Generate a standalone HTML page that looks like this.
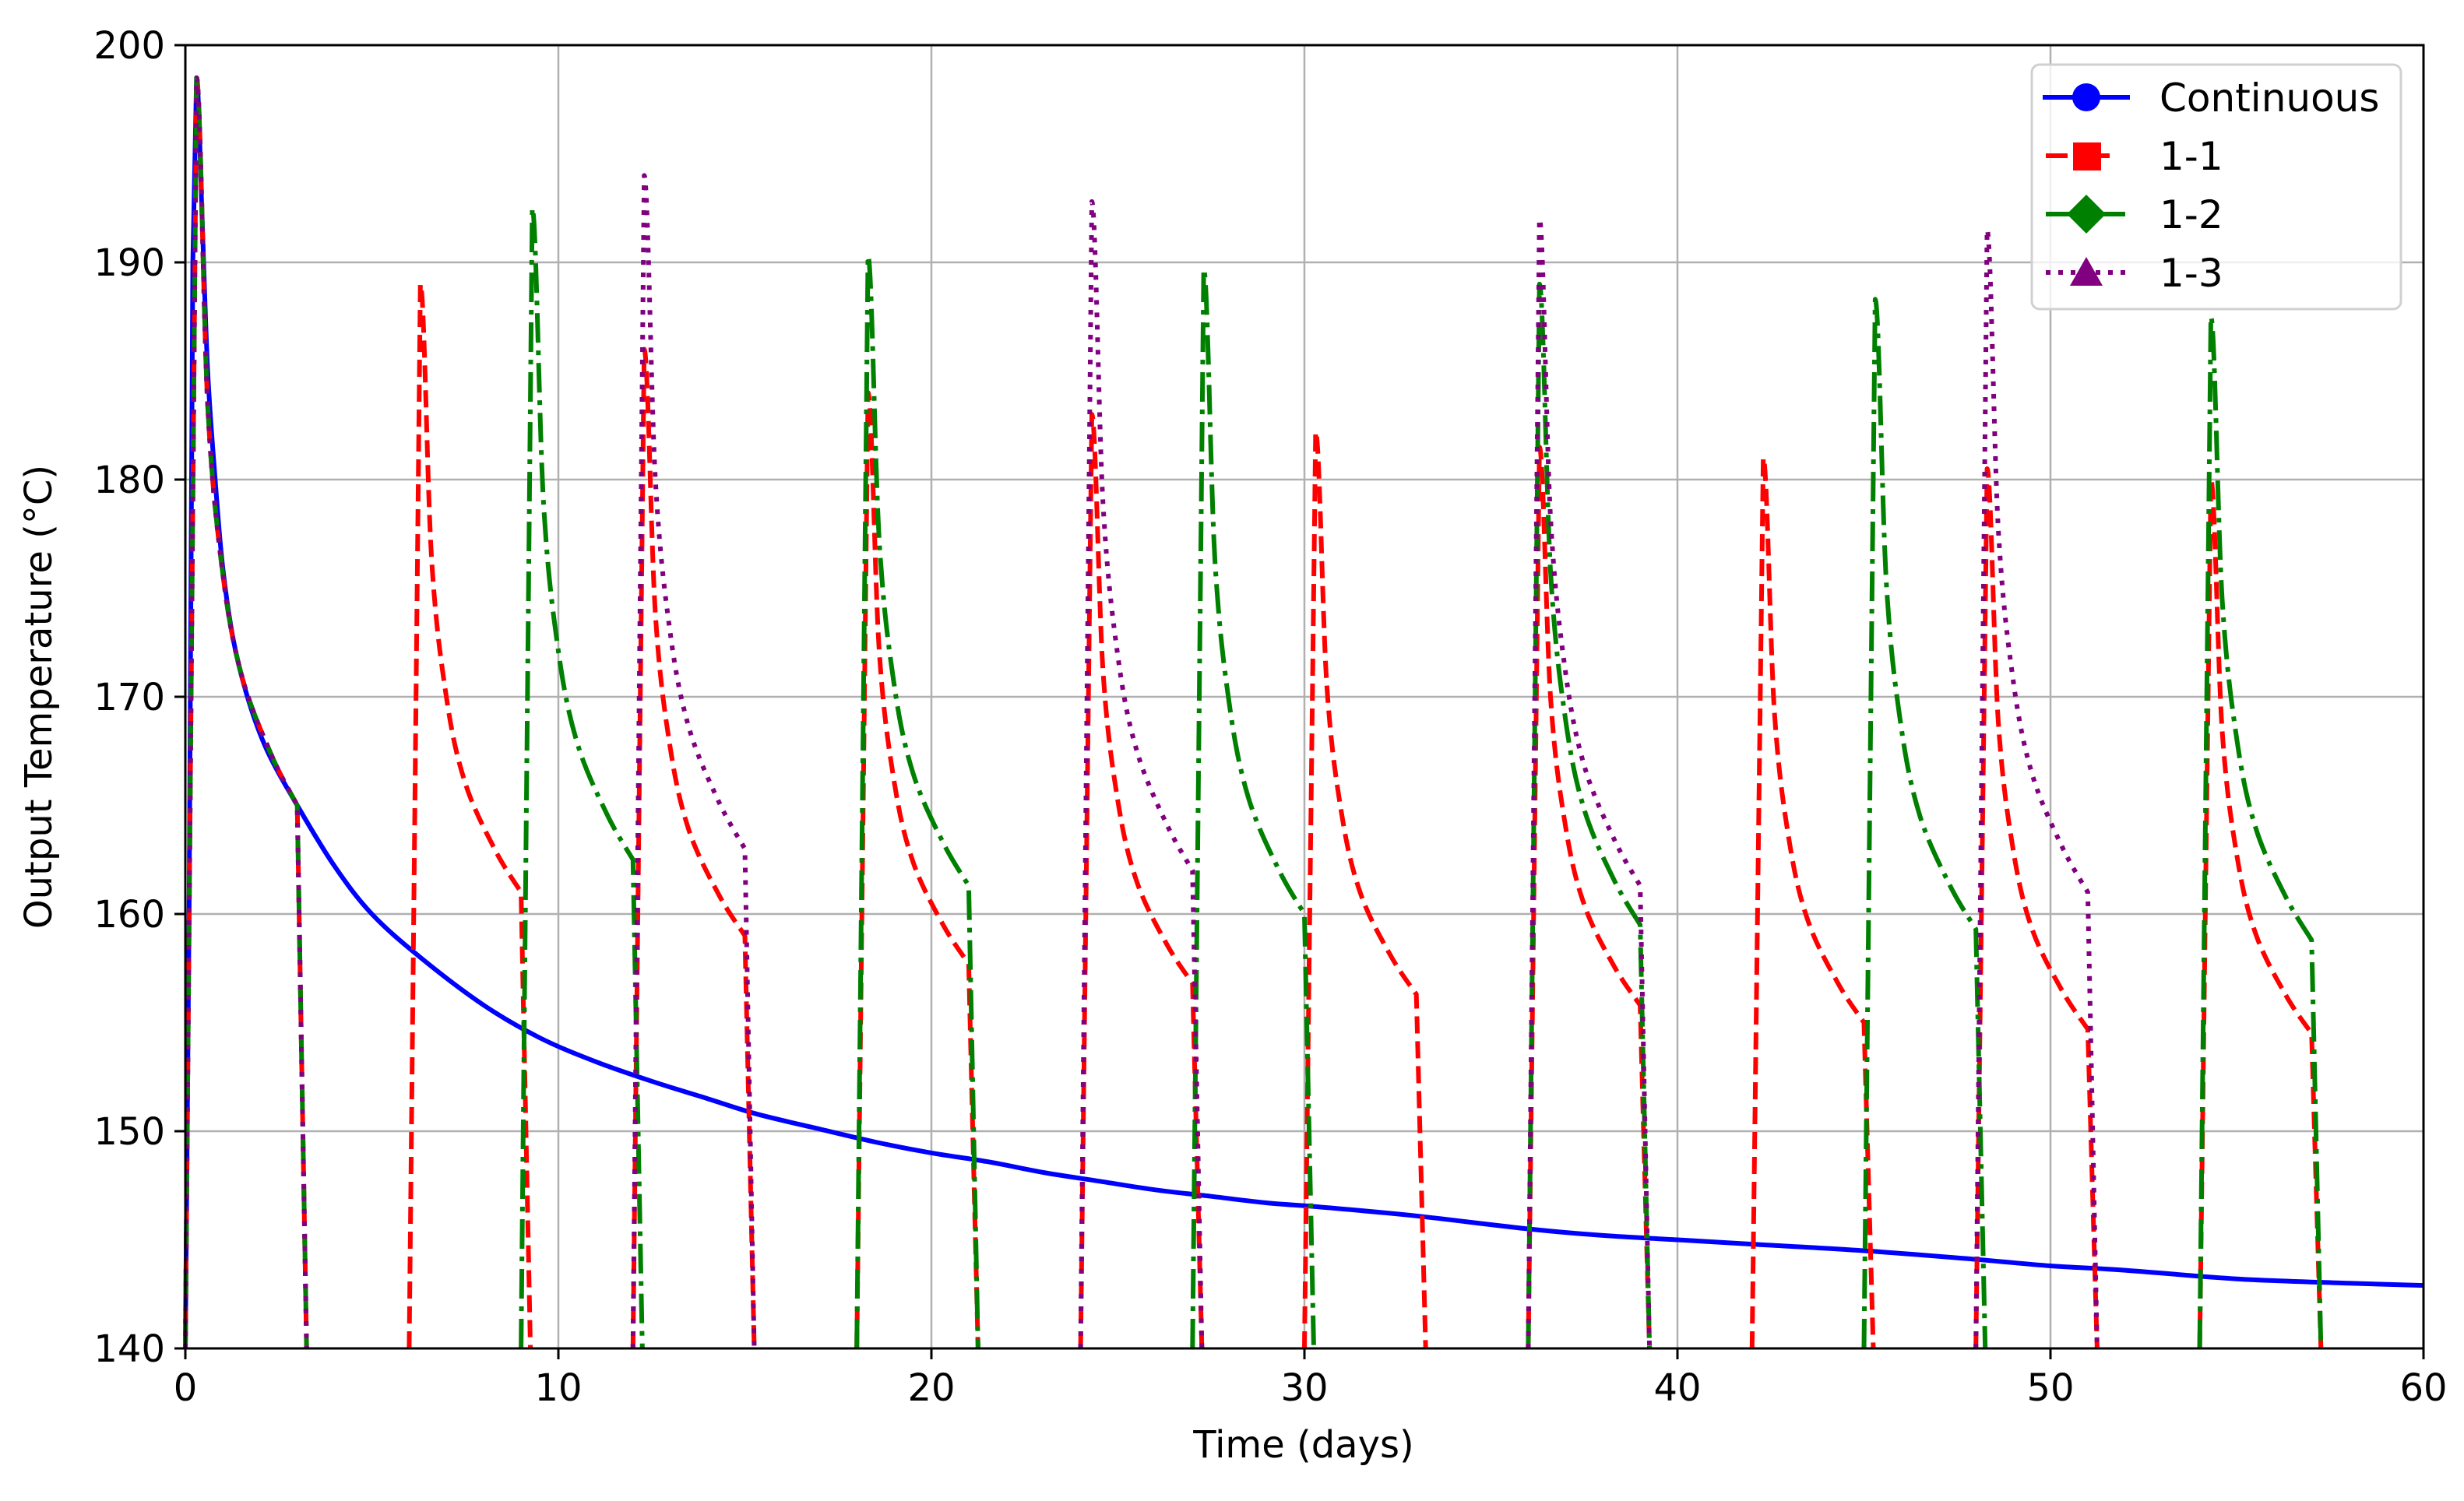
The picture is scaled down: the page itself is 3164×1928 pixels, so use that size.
<!DOCTYPE html>
<html><head><meta charset="utf-8"><style>
html,body{margin:0;padding:0;background:#fff;}
svg{display:block;font-family:"DejaVu Sans","Liberation Sans",sans-serif;}
</style></head><body>
<svg id="chart" width="3164" height="1928" viewBox="0 0 3164 1928">
<g id="grid"></g>
<g id="series"></g>
<g id="axes"></g>
<text x="1674" y="1872" font-size="48" text-anchor="middle">Time (days)</text>
<text transform="translate(66,895) rotate(-90)" font-size="48" text-anchor="middle">Output Temperature (°C)</text>
<g id="legend">
<rect x="2609" y="83" width="474" height="314" rx="10" fill="#fff" fill-opacity="0.8" stroke="#d0d0d0" stroke-width="3"/>
<g>
<line x1="2623" y1="125" x2="2735" y2="125" stroke="#0000ff" stroke-width="6"/>
<circle cx="2679" cy="125" r="18" fill="#0000ff"/>
<text x="2773" y="143" font-size="50">Continuous</text></g>
<g>
<line x1="2627" y1="200" x2="2731" y2="200" stroke="#ff0000" stroke-width="6" stroke-dasharray="28,26"/>
<rect x="2662" y="183" width="36" height="36" fill="#ff0000"/>
<text x="2773" y="218" font-size="50">1-1</text></g>
<g>
<line x1="2627" y1="275" x2="2731" y2="275" stroke="#008000" stroke-width="6" stroke-dasharray="38,10,6,10"/>
<polygon points="2679,250 2704,275 2679,300 2654,275" fill="#008000"/>
<text x="2773" y="293" font-size="50">1-2</text></g>
<g>
<line x1="2627" y1="350" x2="2731" y2="350" stroke="#800080" stroke-width="6" stroke-dasharray="6,10"/>
<polygon points="2679,330 2700,367 2658,367" fill="#800080"/>
<text x="2773" y="368" font-size="50">1-3</text></g>
</g>
</svg>
<script>
// ---- data ----
const xTicks = [0,10,20,30,40,50,60];
const yTicks = [140,150,160,170,180,190,200];
const contT = [0,0.1,0.2,0.3,0.45,0.6,0.8,1.0,1.3,1.7,2.2,3,4,5,6.3,8,9.5,11,12.5,14,15.3,17,18.5,20,21.5,23,24.5,26,27.5,29,30.5,33,36,38,40,42,45,48,50,52,55,58,60];
const contV = [140,160,190,198.5,192,185,180,176,172.5,169.8,167.5,165,162.2,160,158,155.8,154.3,153.2,152.3,151.5,150.8,150.1,149.5,149,148.6,148.1,147.7,147.3,147,146.7,146.5,146.1,145.5,145.2,145,144.8,144.5,144.1,143.8,143.6,143.2,143,142.9];
// cycles: start time, peak temp, end temp
const s11Start = [0,6,12,18,24,30,36,42,48,54];
const s11Peak  = [198.5,189,186,184,183,182.2,181.5,181,180.5,180];
const s11End   = [165,161,159,157.7,156.8,156.3,155.8,155,154.7,154.5];
const s12Start = [0,9,18,27,36,45,54];
const s12Peak  = [198.5,192.5,190.3,189.7,189,188.3,187.5];
const s12End   = [165,162.5,161.3,160,159.5,159.3,158.8];
const s13Start = [0,12,24,36,48];
const s13Peak  = [198.5,194,192.8,192,191.5];
const s13End   = [165,163,162,161.3,161];
// decay shape read from the first cycle (fraction of peak-end remaining)
const decayOffset = [0,0.3,0.7,1.2,2.0,2.7];
const decayFrac   = [1,0.55,0.32,0.18,0.07,0];

// ---- scales ----
const X0=238,X1=3112,Y0=1732,Y1=58;
const sx=t=>X0+(t-0)/(60-0)*(X1-X0);
const sy=v=>Y0-(v-140)/(200-140)*(Y0-Y1);
const NS="http://www.w3.org/2000/svg";
const grid=document.getElementById('grid'),axes=document.getElementById('axes'),ser=document.getElementById('series');
function mk(tag,attrs,parent){const e=document.createElementNS(NS,tag);for(const k in attrs)e.setAttribute(k,attrs[k]);parent.appendChild(e);return e;}

xTicks.forEach(t=>{
  const g=mk('line',{x1:sx(t),x2:sx(t),y1:Y1,y2:Y0,stroke:'#b0b0b0','stroke-width':2.5},grid);
  
  
  const tk=mk('line',{x1:sx(t),x2:sx(t),y1:Y0,y2:Y0+14,stroke:'#000','stroke-width':3},axes);
  
  
  const lb=mk('text',{x:sx(t),y:Y0+67,'font-size':48,'text-anchor':'middle'},axes);
  lb.textContent=t;
  
  
});
yTicks.forEach(v=>{
  const g=mk('line',{x1:X0,x2:X1,y1:sy(v),y2:sy(v),stroke:'#b0b0b0','stroke-width':2.5},grid);
  
  
  const tk=mk('line',{x1:X0-14,x2:X0,y1:sy(v),y2:sy(v),stroke:'#000','stroke-width':3},axes);
  
  
  const lb=mk('text',{x:X0-26,y:sy(v)+17,'font-size':48,'text-anchor':'end'},axes);
  lb.textContent=v;
  
  
});
const fr=mk('rect',{x:X0,y:Y1,width:X1-X0,height:Y0-Y1,fill:'none',stroke:'#000','stroke-width':3},axes);



// Catmull-Rom smoothing; first segment starts with zero incoming tangent to avoid overshoot
function smooth(pts){
  let d='';
  for(let i=0;i<pts.length-1;i++){
    const p0=pts[Math.max(0,i-1)],p1=pts[i],p2=pts[i+1],p3=pts[Math.min(pts.length-1,i+2)];
    const c1=i===0?[p1[0]+(p2[0]-p1[0])/3,p1[1]]:[p1[0]+(p2[0]-p0[0])/6,p1[1]+(p2[1]-p0[1])/6];
    const c2=[p2[0]-(p3[0]-p1[0])/6,p2[1]-(p3[1]-p1[1])/6];
    d+=' C'+c1[0].toFixed(1)+','+c1[1].toFixed(1)+' '+c2[0].toFixed(1)+','+c2[1].toFixed(1)+' '+p2[0].toFixed(1)+','+p2[1].toFixed(1);
  }
  return d;
}
function cyclePath(t0,pk,en){
  let d='M'+sx(t0).toFixed(1)+','+sy(140).toFixed(1)+' L'+sx(t0+0.3).toFixed(1)+','+sy(pk).toFixed(1);
  const pts=[];
  for(let i=0;i<decayOffset.length;i++){
    pts.push([sx(t0+0.3+decayOffset[i]),sy(en+(pk-en)*decayFrac[i])]);
  }
  return d+smooth(pts);
}
function drawSeries(starts,peaks,ends,color,dash,name){
  const g=mk('g',{},ser);
  
  
  let d='';
  starts.forEach((t0,i)=>{
    d+=cyclePath(t0,peaks[i],ends[i])+' L'+sx(t0+3.25).toFixed(1)+','+sy(140).toFixed(1)+' ';
  });
  const p=mk('path',{d:d,fill:'none',stroke:color,'stroke-width':6,'stroke-dasharray':dash,'stroke-linejoin':'round'},g);
  
  
}
// continuous
const pkIdx=contV.indexOf(Math.max(...contV));
let cd='M'+sx(contT[0]).toFixed(1)+','+sy(contV[0]).toFixed(1);
for(let i=1;i<=pkIdx;i++) cd+=' L'+sx(contT[i]).toFixed(1)+','+sy(contV[i]).toFixed(1);
const cpts=contT.slice(pkIdx).map((t,i)=>[sx(t),sy(contV[pkIdx+i])]);
cd+=smooth(cpts);
const cp=mk('path',{d:cd,fill:'none',stroke:'#0000ff','stroke-width':6,'stroke-linejoin':'round'},ser);


drawSeries(s11Start,s11Peak,s11End,'#ff0000','22,10','series-1-1');
drawSeries(s12Start,s12Peak,s12End,'#008000','38,10,6,10','series-1-2');
drawSeries(s13Start,s13Peak,s13End,'#800080','6,10','series-1-3');
</script>
</body></html>
